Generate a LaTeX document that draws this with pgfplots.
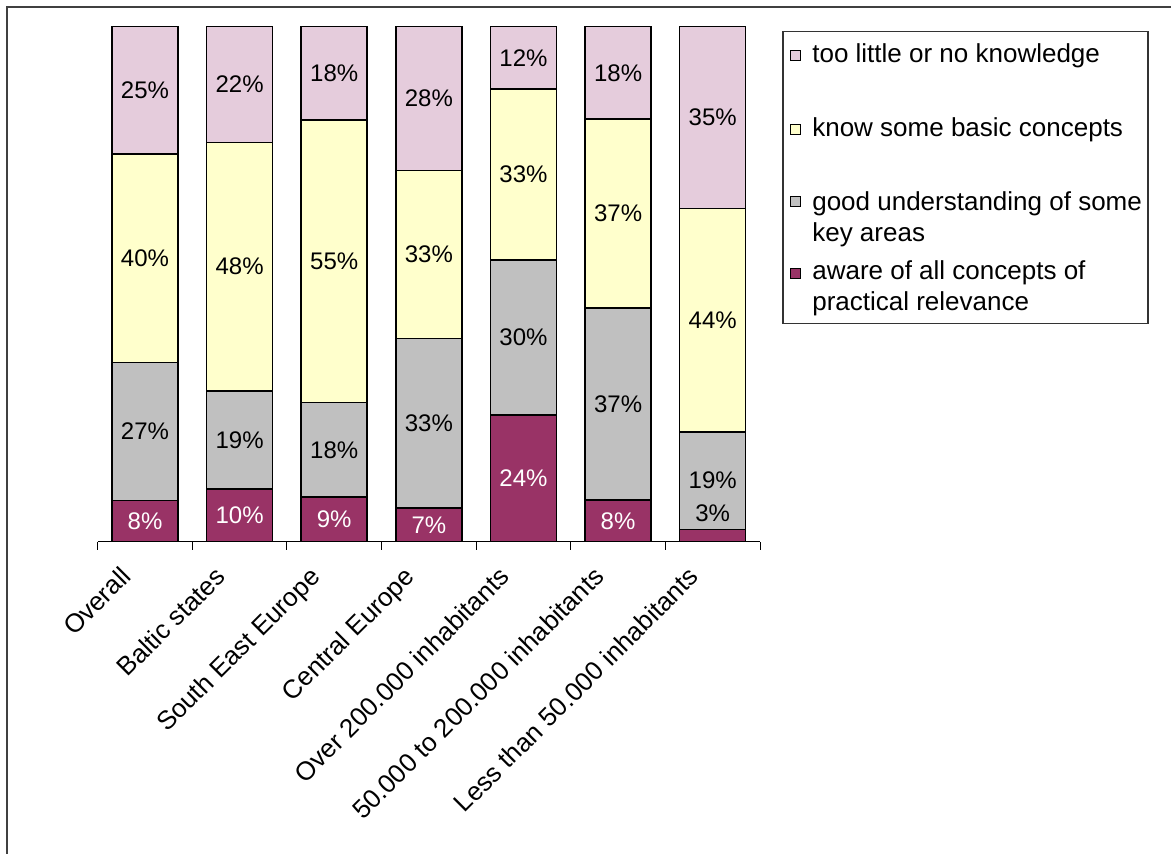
\documentclass[border=0pt]{standalone}
\usepackage{pgfplots}
\pgfplotsset{compat=1.18}
\usepackage{pgfplotstable}
\usepackage{fontspec}
\setmainfont{Liberation Sans}
\definecolor{cm}{HTML}{993366}
\definecolor{cg}{HTML}{C0C0C0}
\definecolor{cy}{HTML}{FFFFCC}
\definecolor{cp}{HTML}{E5CCDC}

\pgfplotstableread{
x m g y p lm lg ly lp
0 8.0 26.8 40.5 24.7 8 27 40 25
1 10.2 19.1 48.2 22.5 10 19 48 22
2 8.7 18.3 54.9 18.1 9 18 55 18
3 6.5 33.0 32.6 27.9 7 33 33 28
4 24.6 30.1 33.2 12.1 24 30 33 12
5 8.1 37.3 36.7 17.9 8 37 37 18
6 2.4 18.9 43.4 35.3 3 19 44 35
}\data

\pgfplotsset{
  legsq/.style={legend image code/.code={\path[draw=none, fill=none] (0pt,0pt) -- (11.7pt,0pt);
    \draw[##1, draw=black, line width=0.6pt] (2.7pt,-2.5pt) rectangle (7.7pt,2.5pt);}},
  legsqup/.style={legend image code/.code={\path[draw=none, fill=none] (0pt,-9pt) -- (11.7pt,9pt);
    \draw[##1, draw=black, line width=0.6pt] (2.7pt,3.9pt) rectangle (7.7pt,8.9pt);}},
}
\newcommand{\twoline}[2]{\vtop{\hbox{#1}\hbox{#2}}}
\begin{document}
\begin{tikzpicture}
\useasboundingbox (0,0) rectangle (585.5pt,-427pt);
\draw[black!75, line width=0.9pt] (3.35pt,-500pt) -- (3.35pt,-3.35pt) -- (700pt,-3.35pt);
\pgfplotsset{base/.style={scale only axis, width=331.15pt, height=257.5pt,
  xmin=-0.5, xmax=6.5, ymin=0, ymax=100, at={(48.85pt,-270.85pt)}, anchor=south west, clip=false},
  lab/.style={draw=none, mark=none, nodes near coords={\pgfmathprintnumber{\pgfplotspointmeta}\%},
  point meta=explicit, /pgf/number format/assume math mode=true,
  every node near coord/.append style={anchor=center, font=\fontsize{12}{14}\selectfont, inner sep=0pt}}}
\begin{axis}[base, ybar stacked, bar width=33pt,
  axis x line*=bottom, axis y line=none, ytick=\empty,
  xtick=data,
  xticklabels={Overall, Baltic states, South East Europe, Central Europe, Over 200.000 inhabitants, 50.000 to 200.000 inhabitants, Less than 50.000 inhabitants},
  major tick length=0pt,
  extra x ticks={-0.5,0.5,1.5,2.5,3.5,4.5,5.5,6.5}, extra x tick labels={},
  extra x tick style={major tick length=4pt, tick align=outside, tick style={black, line width=0.5pt}},
  x axis line style={line width=0.6pt},
  xticklabel style={font=\fontsize{13}{15.6}\selectfont, inner sep=0pt, anchor=north east, xshift=-13pt, yshift=-11.5pt, rotate=45},
  reverse legend, legend cell align=left,
  legend style={at={(1.0337,0.9922)}, anchor=north west, draw=black!80, line width=0.6pt,
    font=\fontsize{13}{15.6}\selectfont, row sep=21pt, inner xsep=1pt, inner ysep=4pt,
    nodes={text depth=}},
  legsq,
]
\addplot[fill=cm, draw=black, line width=0.75pt, legsqup] table[x=x,y=m]{\data};
\addlegendentry{\raisebox{0pt}[\height][16pt]{\twoline{aware of all concepts of}{practical relevance}}}
\addplot[fill=cg, draw=black, line width=0.75pt] table[x=x,y=g]{\data};
\addlegendentry{\raisebox{0pt}[\height][0pt]{\twoline{good understanding of some}{key areas}}}
\addplot[fill=cy, draw=black, line width=0.75pt] table[x=x,y=y]{\data};
\addlegendentry{know some basic concepts}
\addplot[fill=cp, draw=black, line width=0.75pt] table[x=x,y=p]{\data};
\addlegendentry{too little or no knowledge}
\end{axis}
\begin{axis}[base, hide axis]
\addplot[lab, restrict x to domain=0:5, every node near coord/.append style={text=white}]
  table[x=x, y expr=\thisrow{m}/2, meta=lm]{\data};
\addplot[lab, restrict x to domain=6:6]
  table[x=x, y expr=\thisrow{m}+5.6-\thisrow{m}, meta=lm]{\data};
\addplot[lab] table[x=x, y expr=\thisrow{m}+\thisrow{g}/2, meta=lg]{\data};
\addplot[lab] table[x=x, y expr=\thisrow{m}+\thisrow{g}+\thisrow{y}/2, meta=ly]{\data};
\addplot[lab] table[x=x, y expr=\thisrow{m}+\thisrow{g}+\thisrow{y}+\thisrow{p}/2, meta=lp]{\data};
\end{axis}
\end{tikzpicture}
\end{document}
